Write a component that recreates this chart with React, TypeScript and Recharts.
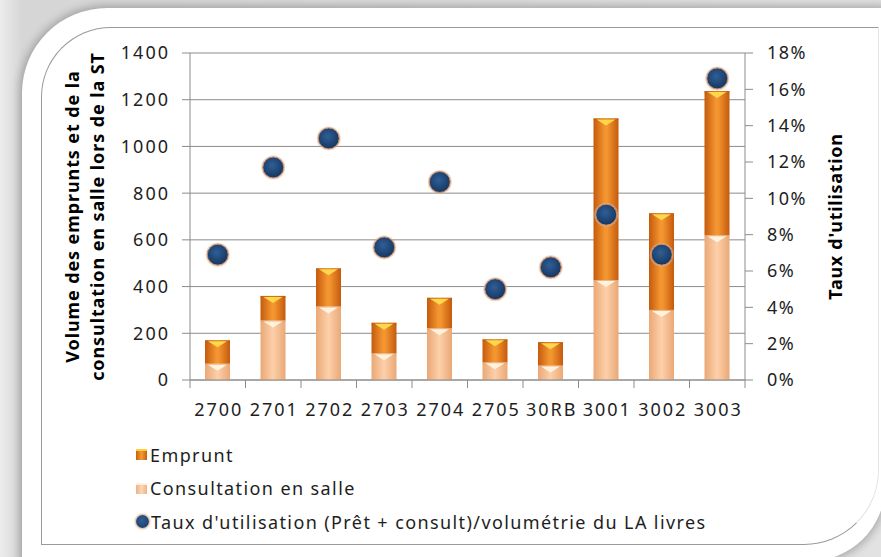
import { ComposedChart, Bar, Scatter, XAxis, YAxis, CartesianGrid, Legend } from 'recharts';

const categories = ['2700', '2701', '2702', '2703', '2704', '2705', '30RB', '3001', '3002', '3003'];
const consultation = [70, 255, 315, 115, 222, 76, 62, 428, 300, 620];
const emprunt = [100, 105, 163, 130, 130, 98, 100, 692, 414, 617];
const taux = [0.069, 0.117, 0.133, 0.073, 0.109, 0.05, 0.062, 0.091, 0.069, 0.166];

const leftTicks = [0, 200, 400, 600, 800, 1000, 1200, 1400];
const rightTicks = [0, 0.02, 0.04, 0.06, 0.08, 0.1, 0.12, 0.14, 0.16, 0.18];

const legendItems = [
  { key: 'emprunt', label: 'Emprunt', kind: 'bar' },
  { key: 'consultation', label: 'Consultation en salle', kind: 'bar' },
  { key: 'taux', label: "Taux d'utilisation (Prêt + consult)/volumétrie du LA livres", kind: 'dot' },
];

const data = categories.map((name, i) => ({
  name,
  consultation: consultation[i],
  emprunt: emprunt[i],
  taux: taux[i],
}));

const FONT = "'Noto Sans', sans-serif";
const AXIS = '#8c8c8c';
const TEXT = '#1e1e1e';

function BarShape(props: any) {
  const { x, y, width, height, dataKey } = props;
  if (!height || height <= 0) return null;
  const isEmp = dataKey === 'emprunt';
  const tri = isEmp ? '#ffd84a' : '#fff3df';
  return (
    <g>
      <rect x={x} y={y} width={width} height={height} fill={isEmp ? 'url(#gEmp)' : 'url(#gCons)'} />
      <rect x={x} y={y} width={width} height={2} fill={isEmp ? '#c0600f' : '#e9a878'} opacity={0.6} />
      <polygon
        points={`${x + 3},${y + 1} ${x + width - 3},${y + 1} ${x + width / 2},${y + 7}`}
        fill={tri}
      />
    </g>
  );
}

function DotShape(props: any) {
  const { cx, cy } = props;
  if (cx == null || cy == null) return null;
  return (
    <g>
      <circle cx={cx} cy={cy} r={12} fill='#e6b08c' opacity={0.55} />
      <circle cx={cx} cy={cy} r={10.5} fill='url(#gDot)' stroke='#c99273' strokeWidth={1} />
    </g>
  );
}

function CategoryTick(props: any) {
  const { x, y, payload, index, width, visibleTicksCount } = props;
  const bw = width / visibleTicksCount;
  const last = index === visibleTicksCount - 1;
  return (
    <g>
      <line x1={x - bw / 2} y1={y} x2={x - bw / 2} y2={y + 8} stroke={AXIS} />
      {last && <line x1={x + bw / 2} y1={y} x2={x + bw / 2} y2={y + 8} stroke={AXIS} />}
      <text
        x={x + 1}
        y={y + 36}
        textAnchor='middle'
        fontSize={18}
        letterSpacing={2}
        fill={TEXT}
        fontFamily={FONT}
      >
        {payload.value}
      </text>
    </g>
  );
}

function LeftTitle(props: any) {
  const { viewBox } = props;
  const cy = viewBox.y + viewBox.height / 2;
  const lines = ['Volume des emprunts et de la', 'consultation en salle lors de la ST'];
  const xs = [72, 97];
  return (
    <g>
      {lines.map((l, i) => (
        <text
          key={l}
          x={xs[i]}
          y={cy}
          transform={`rotate(-90 ${xs[i]} ${cy})`}
          textAnchor='middle'
          dominantBaseline='central'
          fontSize={18}
          letterSpacing={0.9}
          fontWeight='bold'
          fill='#000'
          fontFamily={FONT}
        >
          {l}
        </text>
      ))}
    </g>
  );
}

function RightTitle(props: any) {
  const { viewBox } = props;
  const cy = viewBox.y + viewBox.height / 2;
  const x = 835;
  return (
    <text
      x={x}
      y={cy}
      transform={`rotate(-90 ${x} ${cy})`}
      textAnchor='middle'
      dominantBaseline='central'
      fontSize={18}
      letterSpacing={0.7}
      fontWeight='bold'
      fill='#000'
      fontFamily={FONT}
    >
      Taux d'utilisation
    </text>
  );
}

function LegendContent() {
  return (
    <div style={{ fontFamily: FONT, fontSize: 18, letterSpacing: 1.4, color: TEXT }}>
      {legendItems.map((it) => (
        <div key={it.key} style={{ display: 'flex', alignItems: 'center', height: 33.5 }}>
          {it.kind === 'bar' ? (
            <span
              style={{
                width: 11,
                height: 11,
                marginRight: 3,
                background:
                  it.key === 'emprunt'
                    ? 'linear-gradient(90deg,#c8600e,#f59a34,#c8600e)'
                    : 'linear-gradient(90deg,#eeb286,#fdd6b4,#eeb286)',
                borderTop: it.key === 'emprunt' ? '2px solid #ffcf40' : '2px solid #fff0dc',
                boxSizing: 'border-box',
              }}
            />
          ) : (
            <span
              style={{
                width: 13,
                height: 13,
                marginRight: 2,
                borderRadius: '50%',
                background: 'radial-gradient(circle at 45% 40%,#2f5f96,#17375e)',
                boxShadow: '0 0 2px 1px #e0a987',
              }}
            />
          )}
          <span>{it.label}</span>
        </div>
      ))}
    </div>
  );
}

export default function App() {
  return (
    <div
      style={{
        position: 'absolute',
        left: 0,
        top: 0,
        width: 881,
        height: 557,
        overflow: 'hidden',
        background: 'linear-gradient(90deg,#ececec,#d6d6d6 22px,#e2e2e2)',
      }}
    >
      <div
        style={{
          position: 'absolute',
          left: 22,
          top: 8,
          width: 863,
          height: 553,
          background: '#fff',
          borderTopLeftRadius: 85,
          borderBottomRightRadius: 75,
          boxShadow: '0 0 10px 2px rgba(0,0,0,0.28)',
        }}
      />
      <div
        style={{
          position: 'absolute',
          left: 41,
          top: 27,
          width: 836,
          height: 516,
          borderTop: '1px solid #9a9a9a',
          borderLeft: '1px solid #9a9a9a',
          borderBottom: '1px solid #9a9a9a',
          borderRight: '1px solid #e4e4e4',
          borderTopLeftRadius: 70,
          borderBottomRightRadius: 75,
        }}
      />
      <div style={{ position: 'absolute', left: 0, top: 0 }}>
        <ComposedChart
          width={881}
          height={557}
          data={data}
          margin={{ top: 53, right: 0, left: 0, bottom: 137 }}
          barSize={25}
        >
          <defs>
            <linearGradient id='gEmp' x1='0' y1='0' x2='1' y2='0'>
              <stop offset='0%' stopColor='#c55a0d' />
              <stop offset='45%' stopColor='#f39530' />
              <stop offset='55%' stopColor='#f39530' />
              <stop offset='100%' stopColor='#c55a0d' />
            </linearGradient>
            <linearGradient id='gCons' x1='0' y1='0' x2='1' y2='0'>
              <stop offset='0%' stopColor='#eaa876' />
              <stop offset='50%' stopColor='#fdd0aa' />
              <stop offset='100%' stopColor='#eaa876' />
            </linearGradient>
            <radialGradient id='gDot' cx='45%' cy='40%' r='60%'>
              <stop offset='0%' stopColor='#2f5f96' />
              <stop offset='100%' stopColor='#163660' />
            </radialGradient>
          </defs>
          <CartesianGrid yAxisId='left' vertical={false} stroke={AXIS} />
          <XAxis
            dataKey='name'
            xAxisId={0}
            height={40}
            stroke={AXIS}
            tickLine={false}
            tickSize={0}
            tickMargin={0}
            interval={0}
            tick={<CategoryTick />}
          />
          <YAxis
            yAxisId='left'
            width={190}
            domain={[0, 1400]}
            ticks={leftTicks}
            stroke={AXIS}
            tickSize={8}
            tickMargin={12}
            tick={{ fontSize: 18, letterSpacing: 2, fill: TEXT, fontFamily: FONT }}
            label={{ content: <LeftTitle /> }}
          />
          <YAxis
            yAxisId='right'
            orientation='right'
            width={136}
            domain={[0, 0.18]}
            ticks={rightTicks}
            stroke={AXIS}
            tickSize={8}
            tickMargin={14}
            tickFormatter={(v: number) => `${Math.round(v * 100)}%`}
            tick={{ fontSize: 18, letterSpacing: 1.5, fill: TEXT, fontFamily: FONT }}
            label={{ content: <RightTitle /> }}
          />
          <Legend
            layout='vertical'
            align='center'
            verticalAlign='middle'
            wrapperStyle={{ left: 136, top: 438, width: 720 }}
            content={<LegendContent />}
          />
          <Bar
            yAxisId='left'
            dataKey='consultation'
            name='Consultation en salle'
            stackId='a'
            fill='#fbc89d'
            shape={<BarShape dataKey='consultation' />}
            isAnimationActive={false}
          />
          <Bar
            yAxisId='left'
            dataKey='emprunt'
            name='Emprunt'
            stackId='a'
            fill='#ee8a2a'
            shape={<BarShape dataKey='emprunt' />}
            isAnimationActive={false}
          />
          <Scatter
            yAxisId='right'
            dataKey='taux'
            name="Taux d'utilisation (Prêt + consult)/volumétrie du LA livres"
            fill='#1f4a7f'
            shape={<DotShape />}
            isAnimationActive={false}
          />
        </ComposedChart>
      </div>
    </div>
  );
}
